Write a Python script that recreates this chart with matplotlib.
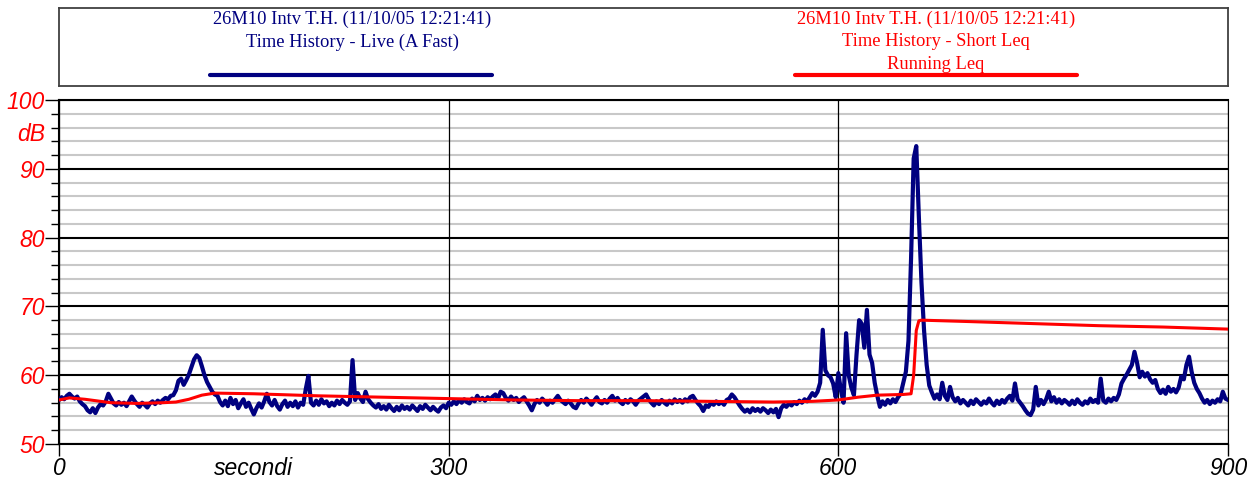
# Time history chart: live level (A Fast) and running Leq
import numpy as np
import matplotlib
matplotlib.use("Agg")
import matplotlib.pyplot as plt
from matplotlib.ticker import MultipleLocator, FixedLocator, FixedFormatter

# Dati (un valore ogni 2 s)
step_s = 2
live_db = [
    56.4, 56.8, 56.5, 57.0, 57.3, 56.9, 56.6, 56.9, 56.2, 55.8, 55.5, 54.9, 54.6, 55.2, 54.5,
    55.3, 55.8, 55.6, 56.2, 57.3, 56.6, 55.9, 55.6, 56.1, 55.7, 56.0, 55.5, 56.2, 56.9, 56.3,
    55.8, 55.4, 56.0, 55.7, 55.3, 55.9, 56.2, 55.8, 56.3, 56.0, 56.4, 56.7, 56.5, 57.0, 57.1,
    57.8, 59.2, 59.5, 58.6, 59.3, 60.1, 61.2, 62.3, 62.9, 62.5, 61.3, 60.0, 59.0, 58.3, 57.6,
    57.2, 57.0, 56.1, 55.6, 56.3, 55.5, 56.7, 55.8, 56.4, 55.2, 55.9, 56.5, 55.4, 56.0, 55.1,
    54.3, 55.2, 55.9, 55.3, 56.2, 57.3, 56.1, 55.6, 56.4, 55.5, 55.0, 55.8, 56.3, 55.4, 56.0,
    55.5, 56.2, 55.3, 56.0, 55.7, 58.0, 59.9, 56.0, 55.6, 56.3, 55.7, 56.5, 55.9, 56.2, 55.5,
    56.0, 55.6, 56.3, 55.8, 56.4, 56.0, 55.7, 56.2, 62.2, 56.4, 57.4, 56.6, 56.1, 57.6, 56.5,
    56.0, 55.6, 55.3, 55.8, 55.1, 55.5, 55.0, 55.7, 55.2, 54.8, 55.4, 54.9, 55.6, 55.1, 55.4,
    55.0, 55.6, 55.2, 54.8, 55.5, 55.1, 55.7, 55.3, 54.9, 55.4, 55.0, 54.7, 55.3, 55.6, 55.2,
    56.0, 55.7, 56.2, 55.8, 56.4, 56.0, 56.5, 56.1, 55.9, 56.6, 56.2, 57.0, 56.4, 56.7, 56.3,
    56.8, 56.5, 56.9, 57.2, 56.6, 57.6, 57.4, 56.7, 56.3, 56.9, 56.4, 56.7, 56.1, 56.5, 56.8,
    56.2, 55.6, 54.9, 55.8, 56.4, 56.0, 56.6, 56.2, 55.7, 56.3, 56.0, 56.5, 57.0, 56.4, 56.1,
    55.8, 56.3, 55.9, 55.4, 55.2, 55.9, 56.4, 56.0, 56.6, 56.2, 55.7, 56.3, 56.8, 56.1, 55.9,
    56.4, 56.0, 56.6, 57.0, 56.3, 56.7, 56.1, 55.8, 56.4, 56.0, 56.5, 56.2, 55.7, 56.3, 56.6,
    56.9, 57.2, 56.5, 56.0, 55.6, 56.2, 55.8, 56.4, 56.0, 55.7, 56.3, 55.9, 56.5, 56.1, 56.4,
    56.0, 56.5, 56.2, 56.8, 57.0, 56.4, 55.9, 55.5, 54.8, 55.6, 55.4, 56.0, 55.7, 56.2, 55.8,
    56.1, 55.7, 56.4, 56.6, 57.2, 56.8, 56.2, 55.6, 55.1, 54.7, 55.0, 54.6, 55.2, 54.8, 55.1,
    54.7, 55.2, 54.9, 54.5, 55.0, 54.6, 55.1, 53.9, 55.2, 55.7, 55.4, 55.9, 55.6, 56.1, 55.8,
    56.3, 56.0, 56.5, 56.2, 56.8, 57.4, 57.0, 57.6, 58.9, 66.6, 60.7, 60.0, 59.7, 58.8, 56.8,
    60.3, 57.8, 56.0, 66.1, 60.0, 58.2, 57.1, 63.0, 68.0, 67.5, 64.0, 69.5, 63.0, 61.8, 58.9,
    57.0, 55.4, 56.2, 55.7, 56.4, 55.9, 56.5, 56.1, 56.8, 57.3, 58.9, 60.5, 65.0, 77.0, 91.5,
    93.3, 83.0, 73.5, 66.5, 61.5, 58.5, 57.5, 56.6, 57.2, 56.5, 58.9, 57.0, 56.4, 58.3, 56.8,
    56.2, 56.7, 55.9, 56.4, 56.0, 55.6, 56.3, 55.8, 56.5, 56.1, 55.7, 56.2, 55.9, 56.6, 56.0,
    55.6, 56.3, 55.8, 56.4, 56.0, 56.6, 57.0, 56.3, 58.8, 56.5, 56.0, 55.5, 54.9, 54.4, 54.2,
    55.0, 58.3, 55.6, 56.4, 55.8, 56.5, 57.6, 56.2, 56.8, 56.0, 56.5, 55.9, 56.4, 56.1, 55.7,
    56.3, 55.8, 56.5, 56.0, 55.7, 56.2, 55.9, 56.6, 56.1, 56.4, 56.0, 59.5, 56.3, 56.0, 56.6,
    56.2, 56.7, 56.4, 57.2, 58.8, 59.5, 60.1, 60.8, 61.5, 63.4, 61.8, 59.7, 60.5, 59.8, 60.3,
    59.4, 58.9, 59.3, 58.0, 57.4, 57.9, 57.3, 58.3, 57.6, 58.0, 57.5, 58.2, 59.8, 59.4, 61.5,
    62.7, 60.5, 58.9, 58.0, 57.4, 56.6, 56.0, 56.4, 55.8, 56.3, 56.0, 56.5, 56.2, 57.6, 56.6,
    56.4,
]
live_t = np.arange(len(live_db)) * step_s

leq_t = [0, 8, 20, 40, 60, 80, 90, 100, 110, 120, 150, 200, 250, 300, 350, 400, 450,
         500, 550, 580, 600, 615, 630, 650, 656, 658, 660, 662, 664, 700, 750, 800, 850, 900]
leq_db = [56.4, 56.7, 56.5, 56.0, 55.9, 56.0, 56.1, 56.5, 57.1, 57.4, 57.3, 57.0, 56.8,
          56.6, 56.4, 56.3, 56.3, 56.2, 56.1, 56.2, 56.4, 56.8, 57.1, 57.2, 57.3, 60.0,
          66.5, 67.9, 68.0, 67.8, 67.5, 67.2, 67.0, 66.7]

x_ticks = [0, 300, 600, 900]
x_labels = ["0", "300", "600", "900"]

blu = "#000080"
rosso = "#ff0000"
font_ax = "Liberation Sans"
font_leg = "Liberation Serif"

W, H = 1255, 484
fig = plt.figure(figsize=(W / 100, H / 100), dpi=100)

# Area del grafico
ax = fig.add_axes([59 / W, 40 / H, 1169 / W, 344 / H])
ax.set_xlim(0, 900)
ax.set_ylim(50, 100)

ax.yaxis.set_major_locator(MultipleLocator(10))
ax.yaxis.set_minor_locator(MultipleLocator(2))
ax.grid(which="minor", axis="y", color="#c8c8c8", lw=1.5)
ax.grid(which="major", axis="y", color="black", lw=1.5)

ax.xaxis.set_major_locator(FixedLocator(x_ticks))
ax.xaxis.set_major_formatter(FixedFormatter(x_labels))
ax.xaxis.set_minor_locator(FixedLocator([150]))
ax.xaxis.set_minor_formatter(FixedFormatter(["secondi"]))
ax.grid(which="major", axis="x", color="black", lw=0.9)
# le verticali sopra le orizzontali grigie
ax.yaxis.set_zorder(1.2)
ax.xaxis.set_zorder(1.4)

ax.tick_params(axis="y", which="major", length=10, width=1, pad=0,
               labelcolor=rosso, labelsize=16.5)
ax.tick_params(axis="y", which="minor", length=6, width=1)
ax.tick_params(axis="x", which="major", length=8.5, width=1, pad=1, labelsize=16.5)
ax.tick_params(axis="x", which="minor", length=0, pad=9.5, labelsize=16.5)
for lab in ax.get_xticklabels(which="both") + ax.get_yticklabels():
    lab.set_fontfamily(font_ax)
    lab.set_fontstyle("italic")

for s in ax.spines.values():
    s.set_color("black")
    s.set_linewidth(1.5)
ax.spines["right"].set_linewidth(0.8)

ax.text(-14 / 1169, 95, "dB", transform=ax.get_yaxis_transform(), ha="right", va="center",
        color=rosso, fontsize=16.5, fontstyle="italic", fontfamily=font_ax)

ax.plot(live_t, live_db, color=blu, lw=3.0, zorder=3, solid_joinstyle="round")
ax.plot(leq_t, leq_db, color=rosso, lw=2.2, zorder=4)

# Legenda
lax = fig.add_axes([59 / W, (H - 86) / H, 1169 / W, 78 / H])
lax.set_xlim(59, 1228)
lax.set_ylim(86, 8)
lax.set_xticks([])
lax.set_yticks([])
for s in lax.spines.values():
    s.set_color("#404040")
    s.set_linewidth(1.3)

leg_blu = ["26M10 Intv T.H. (11/10/05 12:21:41)", "Time History - Live (A Fast)"]
leg_rosso = ["26M10 Intv T.H. (11/10/05 12:21:41)", "Time History - Short Leq", "Running Leq"]
for i, riga in enumerate(leg_blu):
    lax.text(352, 19.5 + 22.5 * i, riga, ha="center", va="center", color=blu,
             fontsize=13.3, fontfamily=font_leg)
for i, riga in enumerate(leg_rosso):
    lax.text(936, 19.5 + 22.5 * i, riga, ha="center", va="center", color=rosso,
             fontsize=13.3, fontfamily=font_leg)
lax.plot([210, 492], [75, 75], color=blu, lw=3, solid_capstyle="round")
lax.plot([795, 1077], [75, 75], color=rosso, lw=3, solid_capstyle="round")

fig.savefig("out.png", dpi=100)
